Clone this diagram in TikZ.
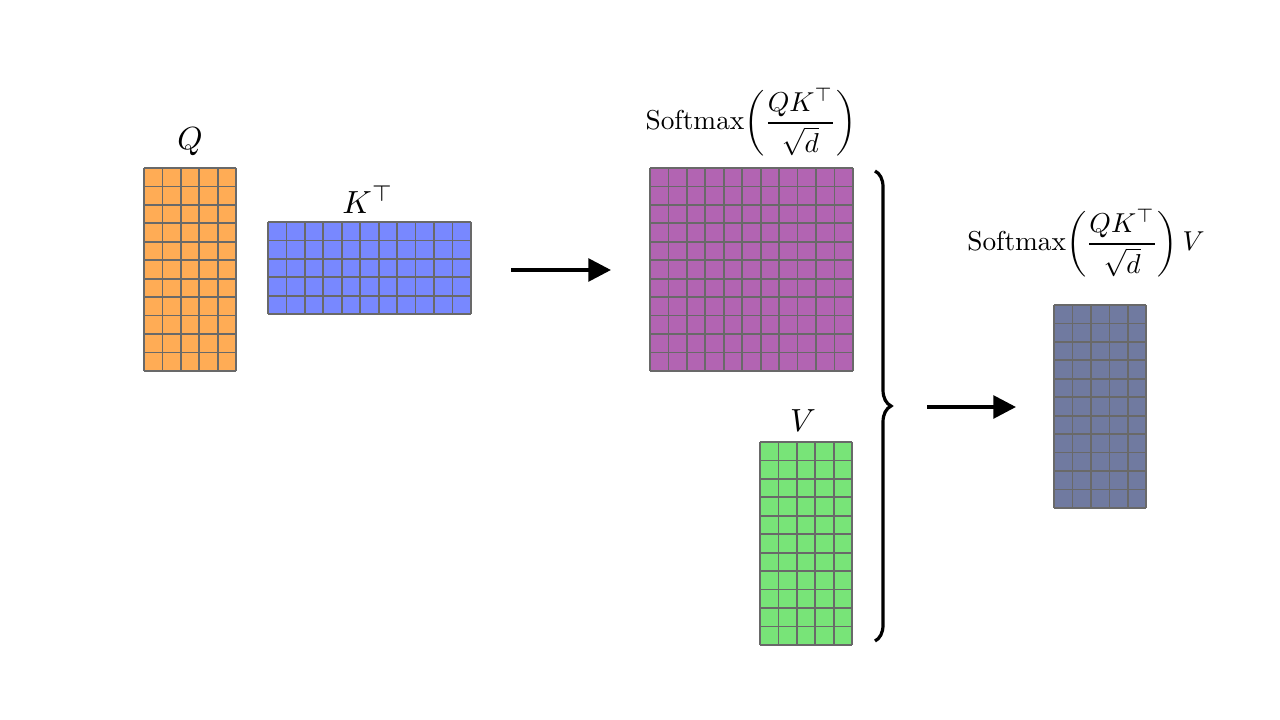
\documentclass[tikz,border=0pt]{standalone}
\usepackage{amsmath}
\usepackage{amssymb}
\usepackage{xcolor}
\usepackage{tikz}
\usetikzlibrary{decorations.pathreplacing,arrows.meta}

\definecolor{qcol}{RGB}{255,172,85}
\definecolor{kcol}{RGB}{120,136,255}
\definecolor{scol}{RGB}{178,100,178}
\definecolor{vcol}{RGB}{120,228,120}
\definecolor{ocol}{RGB}{112,122,160}
\definecolor{gridcol}{RGB}{105,105,105}

% name, left, top, cols, rows, fill
\newcommand{\cellmat}[6]{%
	\begin{scope}[shift={(#2,#3)}]
		\fill[#6] (0,0) rectangle (#4*18.45,#5*18.45);
		\foreach \i in {0,...,#4} \draw[gridline] (\i*18.45,0) -- (\i*18.45,#5*18.45);
		\foreach \j in {0,...,#5} \draw[gridline] (0,\j*18.45) -- (#4*18.45,\j*18.45);
		\coordinate (#1) at (#4*9.225,#5*9.225);
	\end{scope}}

\begin{document}
\begin{tikzpicture}[x=0.75pt,y=0.75pt,yscale=-1,xscale=1,
		gridline/.style={draw=gridcol,line width=1.3pt},
		flow/.style={-{Triangle[length=17pt,width=17pt]},line width=2.8pt}]
	\useasboundingbox (0,0) rectangle (1280,720);
	
	%matrices
	\cellmat{Qm}{144}{168}{5}{11}{qcol}
	\cellmat{Km}{268}{222}{11}{5}{kcol}
	\cellmat{Sm}{650}{168}{11}{11}{scol}
	\cellmat{Vm}{760}{442}{5}{11}{vcol}
	\cellmat{Om}{1054}{305}{5}{11}{ocol}
	
	%labels
	\node[scale=2.4] (qlab) at (190,142) {$Q$};
	\node[scale=2.4] (klab) at (368,200) {$K^{\top}$};
	\node[scale=2.05] (slab) at (751,122) {Softmax$\left(\dfrac{QK^{\top}}{\sqrt{d}}\right)$};
	\node[scale=2.05] (olab) at (1086,243) {Softmax$\left(\dfrac{QK^{\top}}{\sqrt{d}}\right)V$};
	\node[scale=2.4] (vlab) at (803,421) {$V$};
	
	%arrows
	\coordinate (a1s) at (511,270);
	\coordinate (a1e) at (611,270);
	\coordinate (a2s) at (927,407);
	\coordinate (a2e) at (1016,407);
	\draw[flow] (a1s) -- (a1e);
	\draw[flow] (a2s) -- (a2e);
	
	%brace
	\coordinate (btop) at (875,171);
	\coordinate (bbot) at (875,641);
	\draw[decorate,decoration={brace,amplitude=12pt},line width=2.4pt] (btop) -- (bbot);
\end{tikzpicture}
\end{document}
